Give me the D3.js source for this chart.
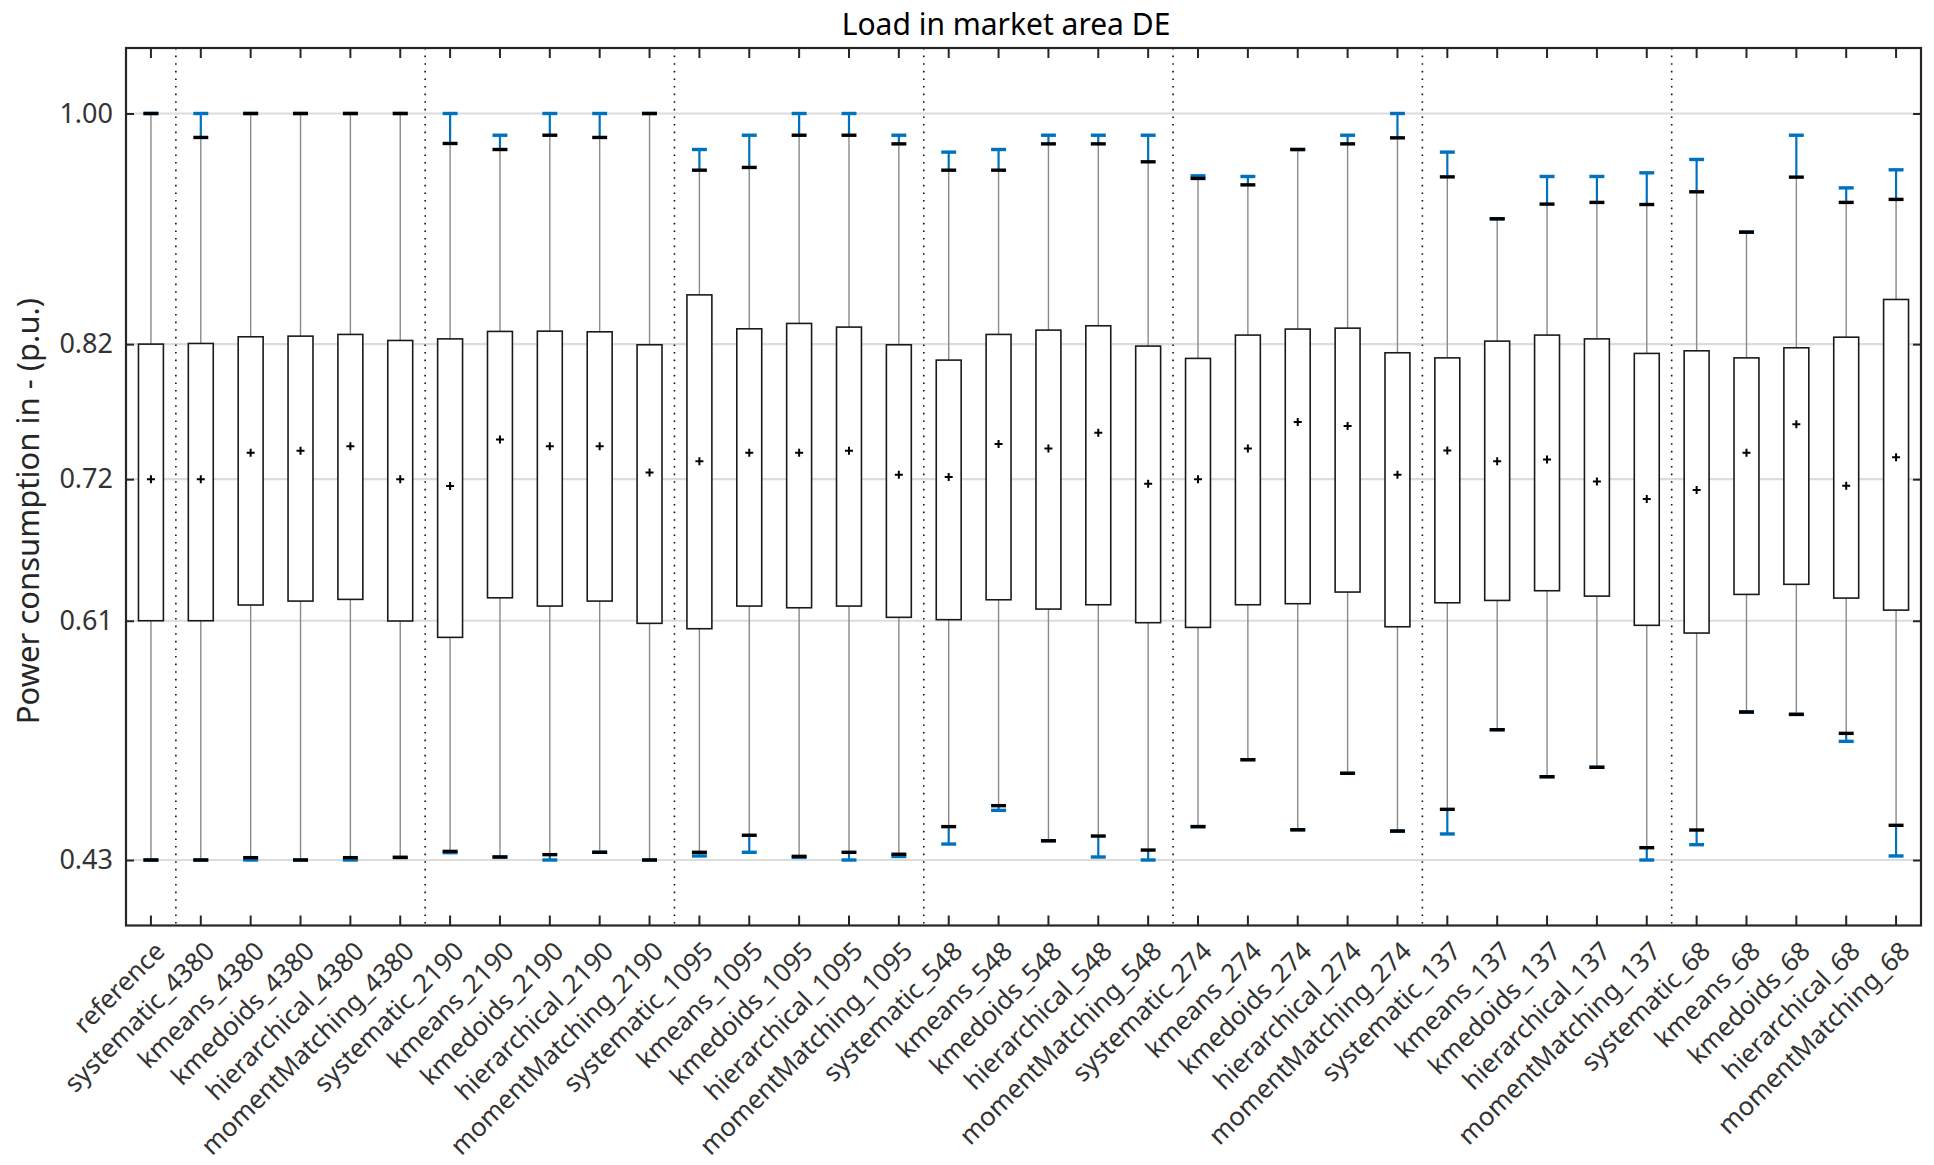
<!DOCTYPE html>
<html>
<head>
<meta charset="utf-8">
<script src="https://cdn.jsdelivr.net/npm/d3@7"></script>
<style>
  body { margin: 0; background: #fff; }
  text { font-family: "Noto Sans", sans-serif; }
</style>
</head>
<body>
<div id="chart"></div>
<script>
// boxplot of load in market area DE, one box per reduction method

const categories = [
    "reference",
    "systematic_4380", "kmeans_4380", "kmedoids_4380", "hierarchical_4380", "momentMatching_4380",
    "systematic_2190", "kmeans_2190", "kmedoids_2190", "hierarchical_2190", "momentMatching_2190",
    "systematic_1095", "kmeans_1095", "kmedoids_1095", "hierarchical_1095", "momentMatching_1095",
    "systematic_548", "kmeans_548", "kmedoids_548", "hierarchical_548", "momentMatching_548",
    "systematic_274", "kmeans_274", "kmedoids_274", "hierarchical_274", "momentMatching_274",
    "systematic_137", "kmeans_137", "kmedoids_137", "hierarchical_137", "momentMatching_137",
    "systematic_68", "kmeans_68", "kmedoids_68", "hierarchical_68", "momentMatching_68"
];

const blueLow = [
    0.430,
    0.430, 0.430, 0.430, 0.430, 0.432,
    0.4356, 0.4323, 0.430, 0.4359, 0.430,
    0.4331, 0.4359, 0.4320, 0.430, 0.4327,
    0.4422, 0.4679, 0.4447, 0.4323, 0.430,
    0.4555, 0.5066, 0.4531, 0.4962, 0.4521,
    0.4499, 0.5295, 0.4936, 0.5008, 0.430,
    0.4417, 0.5430, 0.5412, 0.5206, 0.4331
];
const blackLow = [
    0.430,
    0.430, 0.4318, 0.430, 0.4318, 0.432,
    0.4366, 0.4323, 0.4341, 0.4359, 0.430,
    0.4359, 0.4489, 0.4328, 0.4359, 0.4344,
    0.4555, 0.4715, 0.4447, 0.4483, 0.4376,
    0.4555, 0.5066, 0.4531, 0.4962, 0.4521,
    0.4687, 0.5295, 0.4936, 0.5008, 0.4394,
    0.4529, 0.5430, 0.5412, 0.5267, 0.4565
];
const q1 = [
    0.6127,
    0.6127, 0.6247, 0.6277, 0.6290, 0.6125,
    0.6000, 0.6302, 0.6239, 0.6277, 0.6107,
    0.6066, 0.6239, 0.6226, 0.6239, 0.6153,
    0.6135, 0.6287, 0.6216, 0.6249, 0.6112,
    0.6076, 0.6249, 0.6257, 0.6346, 0.6081,
    0.6264, 0.6282, 0.6356, 0.6315, 0.6092,
    0.6033, 0.6328, 0.6405, 0.6300, 0.6208
];
const meanValues = [
    0.7208,
    0.7208, 0.7409, 0.7424, 0.7460, 0.7208,
    0.7155, 0.7511, 0.7460, 0.7460, 0.7259,
    0.7344, 0.7409, 0.7409, 0.7424, 0.7241,
    0.7224, 0.7476, 0.7443, 0.7562, 0.7173,
    0.7208, 0.7443, 0.7644, 0.7613, 0.7241,
    0.7427, 0.7344, 0.7359, 0.7191, 0.7056,
    0.7125, 0.7409, 0.7628, 0.7157, 0.7376
];
const q3 = [
    0.8239,
    0.8244, 0.8295, 0.8300, 0.8313, 0.8267,
    0.8279, 0.8336, 0.8338, 0.8333, 0.8234,
    0.8615, 0.8356, 0.8397, 0.8369, 0.8234,
    0.8117, 0.8313, 0.8346, 0.8379, 0.8224,
    0.8130, 0.8308, 0.8354, 0.8361, 0.8173,
    0.8134, 0.8262, 0.8308, 0.8279, 0.8168,
    0.8188, 0.8134, 0.8211, 0.8292, 0.8580
];
const blackHigh = [
    1.000,
    0.9817, 1.000, 1.000, 1.000, 1.000,
    0.9771, 0.9725, 0.9834, 0.9817, 1.000,
    0.9567, 0.9588, 0.9834, 0.9834, 0.9768,
    0.9567, 0.9567, 0.9768, 0.9768, 0.9631,
    0.9504, 0.9455, 0.9725, 0.9768, 0.9814,
    0.9516, 0.9196, 0.9308, 0.9321, 0.9305,
    0.9402, 0.9094, 0.9514, 0.9321, 0.9344
];
const blueHigh = [
    1.000,
    1.000, 1.000, 1.000, 1.000, 1.000,
    1.000, 0.9834, 1.000, 1.000, 1.000,
    0.9725, 0.9834, 1.000, 1.000, 0.9834,
    0.9705, 0.9725, 0.9834, 0.9834, 0.9834,
    0.9524, 0.9519, 0.9725, 0.9834, 1.000,
    0.9705, 0.9196, 0.9519, 0.9519, 0.9547,
    0.9649, 0.9094, 0.9834, 0.9432, 0.9570
];

// y ticks sit on the reference statistics (min, Q1, mean, Q3, max)
const yTickValues = [0.43, 0.6127, 0.7208, 0.8239, 1.00];

const chartTitle = "Load in market area DE";
const yTitle = "Power consumption in - (p.u.)";

const width = 1934;
const height = 1165;
const margin = { top: 48, right: 13, bottom: 239.5, left: 126 };

const axisColor = "#262626";
const blue = "#0072BD";
const boxFrac = 0.5;
const capFrac = 0.3;

const data = categories.map((c, i) => ({
    name: c,
    blueLow: blueLow[i],
    blackLow: blackLow[i],
    q1: q1[i],
    mean: meanValues[i],
    q3: q3[i],
    blackHigh: blackHigh[i],
    blueHigh: blueHigh[i]
}));

const svg = d3.select("#chart")
    .append("svg")
    .attr("width", width)
    .attr("height", height);

const x = d3.scaleBand()
    .domain(categories)
    .range([margin.left, width - margin.right]);

const y = d3.scaleLinear()
    .domain([0.38, 1.05])
    .range([height - margin.bottom, margin.top]);

const bw = x.bandwidth();
const cx = d => x(d.name) + bw / 2;

// grid lines
svg.append("g")
    .selectAll("line")
    .data(yTickValues)
    .enter()
    .append("line")
    .attr("x1", margin.left)
    .attr("x2", width - margin.right)
    .attr("y1", d => y(d))
    .attr("y2", d => y(d))
    .attr("stroke", "#dcdcdc")
    .attr("stroke-width", 2.2);

// dotted separators between sample sizes
const groupOf = s => s.includes("_") ? s.split("_")[1] : s;
const separators = categories.filter((c, i) => i > 0 && groupOf(c) !== groupOf(categories[i - 1]));

svg.append("g")
    .selectAll("line")
    .data(separators)
    .enter()
    .append("line")
    .attr("x1", d => x(d))
    .attr("x2", d => x(d))
    .attr("y1", margin.top)
    .attr("y2", height - margin.bottom)
    .attr("stroke", "#111")
    .attr("stroke-width", 1.6)
    .attr("stroke-dasharray", "1.6,6");

const gBoxes = svg.append("g").attr("class", "boxes");

// grey whiskers
gBoxes.selectAll(".whisker-hi")
    .data(data)
    .enter()
    .append("line")
    .attr("x1", cx).attr("x2", cx)
    .attr("y1", d => y(d.q3))
    .attr("y2", d => y(d.blackHigh))
    .attr("stroke", "#8a8a8a")
    .attr("stroke-width", 1.4);

gBoxes.selectAll(".whisker-lo")
    .data(data)
    .enter()
    .append("line")
    .attr("x1", cx).attr("x2", cx)
    .attr("y1", d => y(d.q1))
    .attr("y2", d => y(d.blackLow))
    .attr("stroke", "#8a8a8a")
    .attr("stroke-width", 1.4);

// blue extensions
const blueParts = [];
data.forEach(d => {
    blueParts.push({ name: d.name, from: d.blackHigh, to: d.blueHigh });
    blueParts.push({ name: d.name, from: d.blackLow, to: d.blueLow });
});

gBoxes.selectAll(".blue-line")
    .data(blueParts.filter(p => p.from !== p.to))
    .enter()
    .append("line")
    .attr("x1", cx).attr("x2", cx)
    .attr("y1", p => y(p.from))
    .attr("y2", p => y(p.to))
    .attr("stroke", blue)
    .attr("stroke-width", 2.2);

gBoxes.selectAll(".blue-cap")
    .data(blueParts)
    .enter()
    .append("line")
    .attr("x1", p => cx(p) - bw * capFrac / 2)
    .attr("x2", p => cx(p) + bw * capFrac / 2)
    .attr("y1", p => y(p.to))
    .attr("y2", p => y(p.to))
    .attr("stroke", blue)
    .attr("stroke-width", 3.4);

const blackCaps = [];
data.forEach(d => {
    blackCaps.push({ name: d.name, v: d.blackHigh });
    blackCaps.push({ name: d.name, v: d.blackLow });
});

gBoxes.selectAll(".black-cap")
    .data(blackCaps)
    .enter()
    .append("line")
    .attr("x1", p => cx(p) - bw * capFrac / 2)
    .attr("x2", p => cx(p) + bw * capFrac / 2)
    .attr("y1", p => y(p.v))
    .attr("y2", p => y(p.v))
    .attr("stroke", "#000")
    .attr("stroke-width", 3.4);

// boxes
gBoxes.selectAll(".box")
    .data(data)
    .enter()
    .append("rect")
    .attr("x", d => cx(d) - bw * boxFrac / 2)
    .attr("width", bw * boxFrac)
    .attr("y", d => y(d.q3))
    .attr("height", d => y(d.q1) - y(d.q3))
    .attr("fill", "#fff")
    .attr("stroke", "#1a1a1a")
    .attr("stroke-width", 1.6);

// mean markers
gBoxes.selectAll(".mean")
    .data(data)
    .enter()
    .append("path")
    .attr("transform", d => `translate(${cx(d)},${y(d.mean)})`)
    .attr("d", "M-4,0H4M0,-4V4")
    .attr("stroke", "#000")
    .attr("stroke-width", 2);

// axes, ticks pointing inwards on all four sides
svg.append("g")
    .attr("transform", `translate(${margin.left},0)`)
    .call(d3.axisLeft(y).tickValues(yTickValues).tickFormat(d3.format(".2f")).tickSize(-8).tickPadding(13));

svg.append("g")
    .attr("transform", `translate(${width - margin.right},0)`)
    .call(d3.axisRight(y).tickValues(yTickValues).tickFormat("").tickSize(-8));

svg.append("g")
    .attr("transform", `translate(0,${margin.top})`)
    .call(d3.axisTop(x).tickFormat("").tickSize(-10));

const xAxis = svg.append("g")
    .attr("transform", `translate(0,${height - margin.bottom})`)
    .call(d3.axisBottom(x).tickSize(-10));

svg.selectAll(".domain").remove();
svg.selectAll(".tick line")
    .attr("stroke", axisColor)
    .attr("stroke-width", 2);
svg.selectAll(".tick text")
    .attr("fill", "#333")
    .style("font-size", "27px");

xAxis.selectAll("text")
    .attr("x", 0)
    .attr("y", 0)
    .attr("dy", "0.35em")
    .attr("text-anchor", "end")
    .attr("transform", "translate(9,21) rotate(-45)")
    .style("font-size", "25.8px");

// frame
svg.append("rect")
    .attr("x", margin.left)
    .attr("y", margin.top)
    .attr("width", width - margin.left - margin.right)
    .attr("height", height - margin.top - margin.bottom)
    .attr("fill", "none")
    .attr("stroke", axisColor)
    .attr("stroke-width", 2.2);

svg.append("text")
    .attr("x", 1006)
    .attr("y", 35)
    .attr("text-anchor", "middle")
    .style("font-size", "30px")
    .attr("fill", "#000")
    .text(chartTitle);

svg.append("text")
    .attr("transform", "translate(39,511) rotate(-90)")
    .attr("text-anchor", "middle")
    .style("font-size", "31px")
    .attr("fill", axisColor)
    .text(yTitle);
</script>
</body>
</html>
